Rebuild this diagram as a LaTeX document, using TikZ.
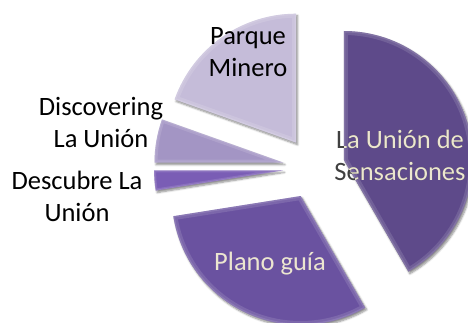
\documentclass[tikz,border=0pt]{standalone}
\usepackage{fontspec}
\setmainfont{Carlito}
\usetikzlibrary{shadows.blur}
\definecolor{cSens}{RGB}{94,74,138}
\definecolor{cPlano}{RGB}{106,82,160}
\definecolor{cDesc}{RGB}{122,93,181}
\definecolor{cDisc}{RGB}{163,149,196}
\definecolor{cParq}{RGB}{197,188,217}
\definecolor{cLbl}{RGB}{236,230,208}
\definecolor{cDark}{RGB}{64,64,64}
\begin{document}
\begin{tikzpicture}[x=1pt,y=1pt,
  slice/.style={blur shadow={shadow xshift=1.5pt,shadow yshift=-2pt,shadow blur steps=6,shadow opacity=45}},
  rim/.style={draw=white, draw opacity=0.12, line width=8pt, line join=round},
  rimb/.style={draw=white, draw opacity=0.12, line width=3pt, line join=round},
  lbl/.style={align=center,font=\fontsize{26.5}{32}\selectfont, text=black, inner sep=0pt}]
\useasboundingbox (0,0) rectangle (468,322);
\coordinate (s1) at (343.9,162.0);
\coordinate (s2) at (300.7,126.0);
\coordinate (s3) at (283.1,151.6);
\coordinate (s4) at (283.5,159.3);
\coordinate (s5) at (296.1,179.3);
% La Union de Sensaciones
\fill[cSens, slice] (s1) -- ++(-60:129) arc[start angle=-60,end angle=90,radius=129] -- cycle;
\begin{scope}
\clip (s1) -- ++(-60:129) arc[start angle=-60,end angle=90,radius=129] -- cycle;
\draw[rim] (s1) -- ++(-60:129) arc[start angle=-60,end angle=90,radius=129] -- cycle;
\draw[rimb] (s1) -- ++(-60:129) arc[start angle=-60,end angle=90,radius=129] -- cycle;
\end{scope}
% Plano guia
\fill[cPlano, slice] (s2) -- ++(189:129) arc[start angle=189,end angle=300,radius=129] -- cycle;
\begin{scope}
\clip (s2) -- ++(189:129) arc[start angle=189,end angle=300,radius=129] -- cycle;
\draw[rim] (s2) -- ++(189:129) arc[start angle=189,end angle=300,radius=129] -- cycle;
\draw[rimb] (s2) -- ++(189:129) arc[start angle=189,end angle=300,radius=129] -- cycle;
\end{scope}
% Descubre
\fill[cDesc, slice] (s3) -- ++(180:129) arc[start angle=180,end angle=189,radius=129] -- cycle;
\begin{scope}
\clip (s3) -- ++(180:129) arc[start angle=180,end angle=189,radius=129] -- cycle;
\draw[rim, line width=4pt] (s3) -- ++(180:129) arc[start angle=180,end angle=189,radius=129] -- cycle;
\draw[rimb, line width=1.5pt] (s3) -- ++(180:129) arc[start angle=180,end angle=189,radius=129] -- cycle;
\end{scope}
% Discovering
\fill[cDisc, slice] (s4) -- ++(160.4:129) arc[start angle=160.4,end angle=180,radius=129] -- cycle;
\begin{scope}
\clip (s4) -- ++(160.4:129) arc[start angle=160.4,end angle=180,radius=129] -- cycle;
\draw[rim, line width=6pt] (s4) -- ++(160.4:129) arc[start angle=160.4,end angle=180,radius=129] -- cycle;
\draw[rimb, line width=2pt] (s4) -- ++(160.4:129) arc[start angle=160.4,end angle=180,radius=129] -- cycle;
\end{scope}
% Parque Minero
\fill[cParq, slice] (s5) -- ++(90:129) arc[start angle=90,end angle=160.4,radius=129] -- cycle;
\begin{scope}
\clip (s5) -- ++(90:129) arc[start angle=90,end angle=160.4,radius=129] -- cycle;
\draw[rim] (s5) -- ++(90:129) arc[start angle=90,end angle=160.4,radius=129] -- cycle;
\draw[rimb] (s5) -- ++(90:129) arc[start angle=90,end angle=160.4,radius=129] -- cycle;
\end{scope}
% labels
\node[lbl] (lParq) at (248,270) {Parque\\Minero};
\node[lbl] (lDisc) at (101,200) {Discovering\\La Unión};
\node[lbl] (lDesc) at (77,126) {Descubre La\\Unión};
\node[lbl, text=cLbl] (lPlano) at (270,58) {Plano guía};
\node[lbl, text=cDark] (lSens) at (400,167) {La Unión de\\Sensaciones};
\begin{scope}
\clip (s1) -- ++(-60:129) arc[start angle=-60,end angle=90,radius=129] -- cycle;
\node[lbl, text=cLbl] (lSensIn) at (400,167) {La Unión de\\Sensaciones};
\end{scope}
\end{tikzpicture}
\end{document}
